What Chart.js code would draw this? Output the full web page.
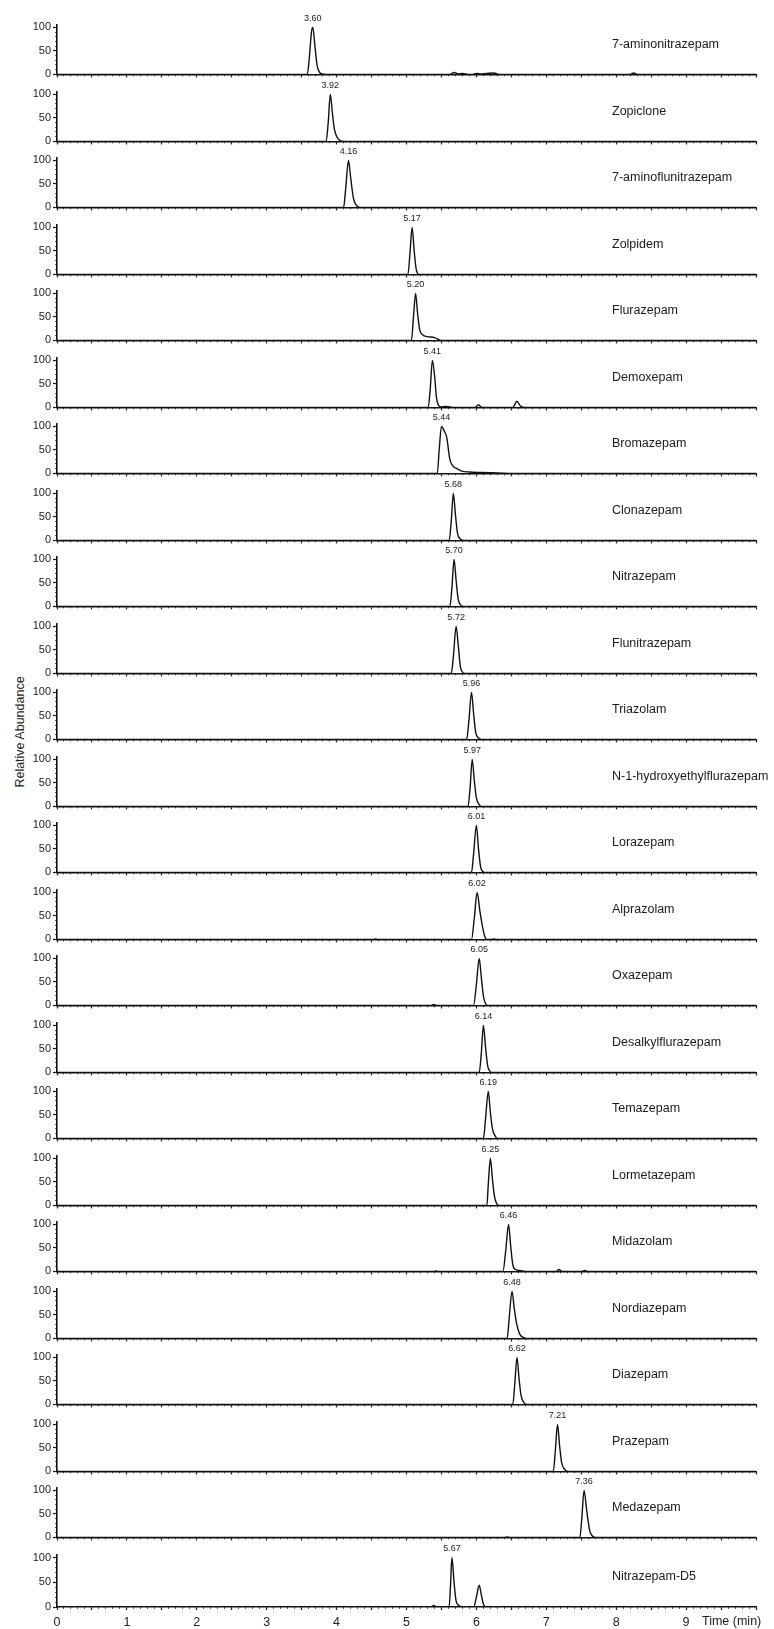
<!DOCTYPE html>
<html>
<head>
<meta charset="utf-8">
<script src="https://cdn.jsdelivr.net/npm/chart.js@4.4.1/dist/chart.umd.min.js"></script>
<style>
  html, body { margin: 0; padding: 0; background: #fff; }
  #wrap { position: relative; width: 774px; height: 1629px; overflow: hidden; }
  #wrap canvas { position: absolute; left: 0; }
  #ytitle {
    position: absolute; left: 20px; top: 732px;
    transform: translate(-50%, -50%) rotate(-90deg);
    font: 12.5px "Liberation Sans", Arial, sans-serif; color: #222; white-space: nowrap;
  }
</style>
</head>
<body>
<div id="wrap"><div id="ytitle">Relative Abundance</div></div>
<script>
// compound names, top to bottom
const compounds = [
    '7-aminonitrazepam', 'Zopiclone', '7-aminoflunitrazepam', 'Zolpidem', 'Flurazepam',
    'Demoxepam', 'Bromazepam', 'Clonazepam', 'Nitrazepam', 'Flunitrazepam', 'Triazolam',
    'N-1-hydroxyethylflurazepam', 'Lorazepam', 'Alprazolam', 'Oxazepam', 'Desalkylflurazepam',
    'Temazepam', 'Lormetazepam', 'Midazolam', 'Nordiazepam', 'Diazepam', 'Prazepam',
    'Medazepam', 'Nitrazepam-D5'
];

// retention time printed over each main peak
const peakLabels = [
    '3.60', '3.92', '4.16', '5.17', '5.20', '5.41', '5.44', '5.68', '5.70', '5.72', '5.96',
    '5.97', '6.01', '6.02', '6.05', '6.14', '6.19', '6.25', '6.46', '6.48', '6.62', '7.21',
    '7.36', '5.67'
];

// [time (min), relative abundance]
const traces = [
    [[0,0],[3.58,0],[3.61,35],[3.64,90],[3.66,100],[3.69,60],[3.72,20],[3.75,6],[3.79,1],[3.85,0],
     [5.62,0],[5.68,4],[5.74,1],[5.80,2],[5.88,0],[5.95,0],[6.00,2],[6.06,1],[6.15,2],[6.25,3],[6.32,0],
     [8.20,0],[8.25,3],[8.30,0],[10,0]],
    [[0,0],[3.85,0],[3.88,40],[3.91,100],[3.94,60],[3.97,25],[4.01,8],[4.06,1],[4.10,0],[10,0]],
    [[0,0],[4.10,0],[4.13,40],[4.17,100],[4.20,65],[4.24,20],[4.28,5],[4.34,0],[10,0]],
    [[0,0],[5.02,0],[5.05,45],[5.08,100],[5.11,50],[5.14,10],[5.18,0],[10,0]],
    [[0,0],[5.07,0],[5.10,50],[5.13,100],[5.16,55],[5.19,22],[5.23,12],[5.30,8],[5.40,6],[5.46,2],[5.50,0],[10,0]],
    [[0,0],[5.31,0],[5.34,40],[5.37,100],[5.40,70],[5.43,20],[5.46,4],[5.50,1],[5.55,2],[5.62,1],[5.68,0],
     [5.98,0],[6.03,5],[6.08,0],[6.52,0],[6.58,13],[6.63,3],[6.70,0],[10,0]],
    [[0,0],[5.44,0],[5.47,55],[5.50,100],[5.54,90],[5.575,77],[5.62,30],[5.67,15],[5.72,10],[5.79,5],
     [5.90,3],[6.05,2],[6.30,1],[6.53,0],[10,0]],
    [[0,0],[5.61,0],[5.64,40],[5.67,100],[5.70,55],[5.73,15],[5.77,3],[5.81,0],[10,0]],
    [[0,0],[5.62,0],[5.65,40],[5.68,100],[5.71,55],[5.74,15],[5.78,2],[5.81,0],[10,0]],
    [[0,0],[5.64,0],[5.67,35],[5.71,100],[5.74,60],[5.77,15],[5.80,3],[5.83,0],[10,0]],
    [[0,0],[5.86,0],[5.89,35],[5.93,100],[5.96,55],[5.99,15],[6.03,3],[6.07,0],[10,0]],
    [[0,0],[5.88,0],[5.91,40],[5.94,100],[5.97,55],[6.00,18],[6.04,4],[6.07,0],[10,0]],
    [[0,0],[5.93,0],[5.96,40],[6.00,100],[6.03,50],[6.06,12],[6.09,2],[6.12,0],[10,0]],
    [[0,0],[4.53,0],[4.56,1],[4.59,0],[5.93,0],[5.97,45],[6.01,100],[6.05,60],[6.09,25],[6.12,6],[6.15,0],
     [6.22,0],[6.25,1],[6.28,0],[10,0]],
    [[0,0],[5.36,0],[5.39,2],[5.42,0],[5.96,0],[6.00,45],[6.04,100],[6.07,60],[6.10,20],[6.13,4],[6.16,0],[10,0]],
    [[0,0],[6.04,0],[6.07,40],[6.10,100],[6.13,55],[6.16,15],[6.19,3],[6.22,0],[10,0]],
    [[0,0],[6.10,0],[6.13,40],[6.17,100],[6.20,55],[6.23,20],[6.27,5],[6.30,0],[10,0]],
    [[0,0],[6.15,0],[6.17,45],[6.20,100],[6.23,55],[6.26,18],[6.29,4],[6.32,0],[10,0]],
    [[0,0],[5.40,0],[5.42,1],[5.45,0],[6.38,0],[6.42,45],[6.46,100],[6.49,55],[6.52,15],[6.56,4],[6.62,2],[6.70,0],
     [7.14,0],[7.18,4],[7.23,0],[7.51,0],[7.55,2],[7.59,0],[10,0]],
    [[0,0],[6.44,0],[6.47,45],[6.51,100],[6.54,65],[6.58,28],[6.62,9],[6.67,2],[6.72,0],[10,0]],
    [[0,0],[6.52,0],[6.55,45],[6.58,100],[6.61,55],[6.64,18],[6.68,4],[6.72,0],[10,0]],
    [[0,0],[7.10,0],[7.13,45],[7.16,100],[7.19,55],[7.22,18],[7.26,5],[7.31,0],[10,0]],
    [[0,0],[6.40,0],[6.44,1],[6.48,0],[7.48,0],[7.51,45],[7.54,100],[7.58,55],[7.62,15],[7.66,3],[7.70,0],[10,0]],
    [[0,0],[5.35,0],[5.39,3],[5.43,0],[5.61,0],[5.63,45],[5.65,100],[5.68,50],[5.71,12],[5.75,3],[5.80,0],
     [5.96,0],[6.00,20],[6.04,44],[6.07,25],[6.10,6],[6.14,0],[10,0]]
];

const xTitle = 'Time (min)';

const FONT = '"Liberation Sans", Arial, sans-serif';
Chart.defaults.font.family = FONT;
Chart.defaults.color = '#222';

const wrap = document.getElementById('wrap');

// draws the peak time, the compound name and (last panel) the axis title
const panelText = {
    id: 'panelText',
    afterDatasetsDraw(chart, args, opts) {
        const { ctx, chartArea, scales } = chart;
        const pts = chart.data.datasets[0].data;
        let top = pts[0];
        pts.forEach((p) => { if (p.y > top.y) top = p; });
        ctx.save();
        ctx.fillStyle = '#1a1a1a';
        ctx.font = '9px ' + FONT;
        ctx.textAlign = 'center';
        ctx.textBaseline = 'middle';
        ctx.fillText(opts.peak, scales.x.getPixelForValue(top.x), scales.y.getPixelForValue(top.y) - 9);
        ctx.font = '12.5px ' + FONT;
        ctx.textAlign = 'left';
        ctx.fillText(opts.name, 612, chartArea.bottom - 30);
        if (opts.title) ctx.fillText(opts.title, 702, chartArea.bottom + 15);
        ctx.restore();
    }
};

compounds.forEach((name, i) => {
    const last = i === compounds.length - 1;
    const y0 = Math.round(77 + 66.5 * i);
    const axisH = last ? 22 : 6;
    const canvas = document.createElement('canvas');
    canvas.width = 774;
    canvas.height = 62 + axisH;
    canvas.style.top = (y0 - 62) + 'px';
    wrap.appendChild(canvas);

    new Chart(canvas, {
        type: 'line',
        data: {
            datasets: [{
                data: traces[i].map(([t, a]) => ({ x: t, y: a })),
                borderColor: '#111',
                borderWidth: 1.4,
                pointRadius: 0,
                cubicInterpolationMode: 'monotone',
                fill: false,
            }],
        },
        options: {
            responsive: false,
            animation: false,
            events: [],
            layout: { padding: { left: 0, right: 18, top: 10, bottom: 0 } },
            plugins: {
                legend: { display: false },
                tooltip: { enabled: false },
                panelText: { name, peak: peakLabels[i], title: last ? xTitle : null },
            },
            scales: {
                x: {
                    type: 'linear', position: 'bottom', weight: 1,
                    min: 0, max: 10,
                    border: { display: true, color: '#111', width: 1.6 },
                    grid: { drawOnChartArea: false, color: '#111', tickLength: 3, tickWidth: 1.2 },
                    ticks: {
                        display: last, stepSize: 0.5, includeBounds: false, autoSkip: false,
                        maxTicksLimit: 100, maxRotation: 0, padding: 5,
                        font: { size: 12.5 }, color: '#222',
                        callback: (v) => (Number.isInteger(v) && v < 10 ? String(v) : ''),
                    },
                    afterFit: (s) => { s.height = axisH; },
                },
                x2: {
                    type: 'linear', position: 'bottom', weight: 0,
                    min: 0, max: 10,
                    border: { display: false },
                    grid: { drawOnChartArea: false, color: '#333', tickLength: 2, tickWidth: 0.8 },
                    ticks: { display: false, stepSize: 0.1, includeBounds: false, autoSkip: false, maxTicksLimit: 1000 },
                    afterFit: (s) => { s.height = 0; },
                },
                y: {
                    type: 'linear', position: 'left', weight: 1,
                    min: 0, max: 105,
                    border: { display: true, color: '#111', width: 1.6 },
                    grid: { drawOnChartArea: false, color: '#111', tickLength: 4, tickWidth: 1.2 },
                    ticks: {
                        stepSize: 50, includeBounds: false, padding: 2,
                        font: { size: 11 }, color: '#222',
                    },
                    afterFit: (s) => { s.width = 57; },
                },
                y2: {
                    type: 'linear', position: 'left', weight: 0,
                    min: 0, max: 105,
                    border: { display: false },
                    grid: { drawOnChartArea: false, color: '#333', tickLength: 2, tickWidth: 0.8 },
                    ticks: { display: false, stepSize: 10, includeBounds: false, maxTicksLimit: 100 },
                    afterFit: (s) => { s.width = 0; },
                },
            },
        },
        plugins: [panelText],
    });
});
</script>
</body>
</html>
